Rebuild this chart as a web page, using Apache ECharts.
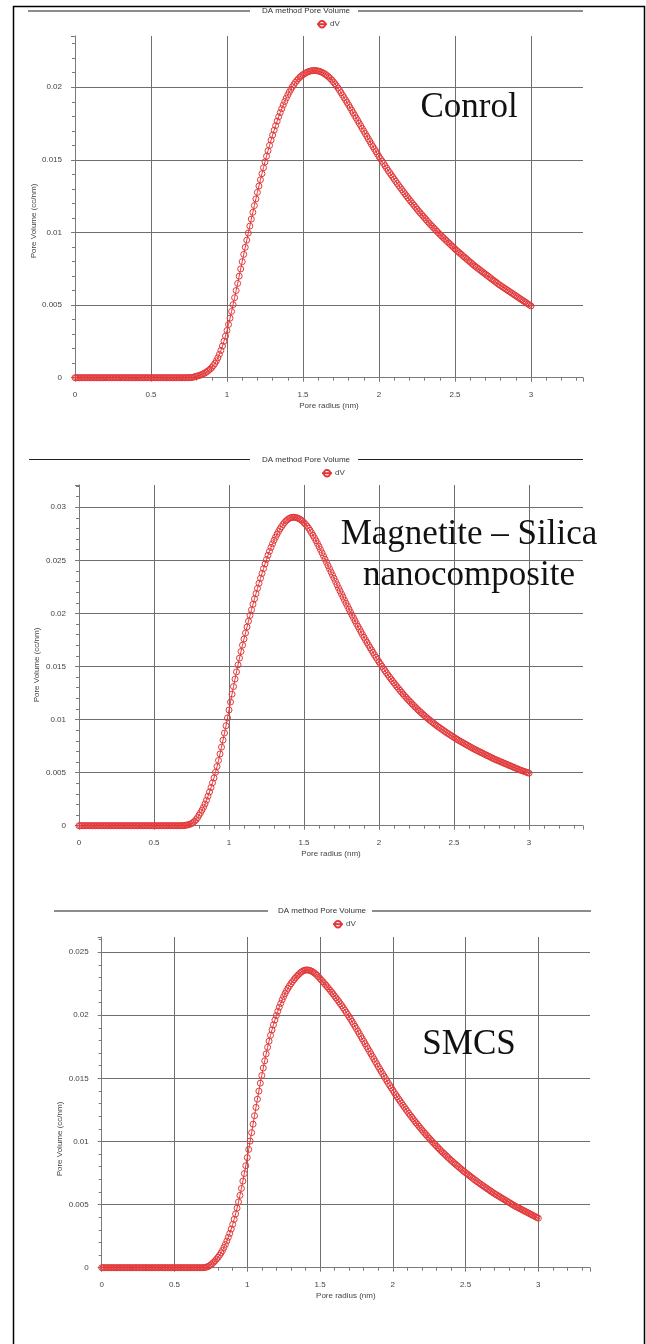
<!DOCTYPE html>
<html>
<head>
<meta charset="utf-8">
<title>DA method Pore Volume</title>
<script src="https://cdn.jsdelivr.net/npm/echarts@6/dist/echarts.min.js"></script>
<style>
  html, body { margin: 0; padding: 0; background: #fff; }
  #chart { width: 646px; height: 1344px; }
</style>
</head>
<body>
<div id="chart"></div>
<script>
// Pore radius grid of the DA analysis (nm), 0.00 to 3.00 in 0.01 nm steps
const RADIUS_STEP = 0.01;
const RADIUS_COUNT = 301;
const poreRadius = Array.from({ length: RADIUS_COUNT }, (_, i) => +(i * RADIUS_STEP).toFixed(2));

// dV (cc/nm) per sample, one row = 0.1 nm
const dvControl = [
  0,0,0,0,0,0,0,0,0,0,
  0,0,0,0,0,0,0,0,0,0,
  0,0,0,0,0,0,0,0,0,0,
  0,0,0,0,0,0,0,0,0,0,
  0,0,0,0,0,0,0,0,0,0,
  0,0,0,0,0,0,0,0,0,0,
  0,0,0,0,0,0,0,0,0,0,
  0,0,0,0,0,0,0.00001,0.00002,0.00004,0.00007,
  0.00010,0.00013,0.00016,0.00020,0.00025,0.00030,0.00036,0.00043,0.00051,0.00060,
  0.00070,0.00083,0.00098,0.00116,0.00137,0.00161,0.00188,0.00218,0.00251,0.00287,
  0.00325,0.00366,0.00410,0.00456,0.00503,0.00551,0.00600,0.00649,0.00699,0.00749,
  0.00799,0.00849,0.00898,0.00947,0.00996,0.01044,0.01092,0.01139,0.01185,0.01231,
  0.01276,0.01320,0.01363,0.01405,0.01446,0.01486,0.01525,0.01563,0.01600,0.01636,
  0.01671,0.01704,0.01736,0.01767,0.01797,0.01825,0.01852,0.01878,0.01902,0.01925,
  0.01947,0.01967,0.01986,0.02003,0.02019,0.02034,0.02047,0.02059,0.02070,0.02079,
  0.02087,0.02094,0.02100,0.02105,0.02109,0.02112,0.02114,0.02115,0.02115,0.02114,
  0.02112,0.02109,0.02105,0.02100,0.02094,0.02087,0.02079,0.02070,0.02060,0.02049,
  0.02037,0.02024,0.02010,0.01995,0.01979,0.01963,0.01946,0.01929,0.01912,0.01895,
  0.01878,0.01860,0.01842,0.01824,0.01806,0.01788,0.01770,0.01752,0.01734,0.01716,
  0.01698,0.01680,0.01662,0.01644,0.01626,0.01608,0.01591,0.01574,0.01557,0.01540,
  0.01523,0.01507,0.01491,0.01475,0.01459,0.01443,0.01427,0.01412,0.01397,0.01382,
  0.01367,0.01352,0.01337,0.01323,0.01309,0.01295,0.01281,0.01267,0.01253,0.01239,
  0.01226,0.01213,0.01200,0.01187,0.01174,0.01161,0.01148,0.01136,0.01124,0.01112,
  0.01100,0.01088,0.01076,0.01064,0.01053,0.01042,0.01031,0.01020,0.01009,0.00998,
  0.00987,0.00977,0.00967,0.00957,0.00947,0.00937,0.00927,0.00917,0.00907,0.00897,
  0.00887,0.00877,0.00868,0.00859,0.00850,0.00841,0.00832,0.00823,0.00814,0.00805,
  0.00796,0.00787,0.00778,0.00769,0.00761,0.00753,0.00745,0.00737,0.00729,0.00721,
  0.00713,0.00705,0.00697,0.00689,0.00681,0.00673,0.00665,0.00657,0.00649,0.00641,
  0.00634,0.00627,0.00620,0.00613,0.00606,0.00599,0.00592,0.00585,0.00578,0.00571,
  0.00564,0.00557,0.00550,0.00543,0.00536,0.00529,0.00522,0.00515,0.00508,0.00501,
  0.00494
];

const dvMagnetiteSilica = [
  0,0,0,0,0,0,0,0,0,0,
  0,0,0,0,0,0,0,0,0,0,
  0,0,0,0,0,0,0,0,0,0,
  0,0,0,0,0,0,0,0,0,0,
  0,0,0,0,0,0,0,0,0,0,
  0,0,0,0,0,0,0,0,0,0,
  0,0,0,0,0,0,0,0,0,0.00001,
  0.00002,0.00004,0.00006,0.00010,0.00014,0.00020,0.00030,0.00042,0.00056,0.00075,
  0.00100,0.00122,0.00147,0.00174,0.00205,0.00240,0.00278,0.00318,0.00360,0.00404,
  0.00450,0.00503,0.00558,0.00615,0.00676,0.00740,0.00806,0.00873,0.00942,0.01015,
  0.01090,0.01165,0.01239,0.01311,0.01381,0.01449,0.01515,0.01579,0.01641,0.01701,
  0.01759,0.01816,0.01872,0.01927,0.01981,0.02034,0.02086,0.02137,0.02187,0.02236,
  0.02284,0.02331,0.02377,0.02422,0.02466,0.02508,0.02548,0.02586,0.02622,0.02656,
  0.02688,0.02718,0.02746,0.02772,0.02796,0.02818,0.02838,0.02856,0.02871,0.02884,
  0.02894,0.02901,0.02905,0.02906,0.02905,0.02902,0.02897,0.02890,0.02881,0.02869,
  0.02855,0.02840,0.02823,0.02804,0.02783,0.02760,0.02736,0.02711,0.02685,0.02658,
  0.02630,0.02601,0.02571,0.02541,0.02511,0.02481,0.02451,0.02421,0.02391,0.02361,
  0.02331,0.02301,0.02271,0.02241,0.02212,0.02183,0.02154,0.02125,0.02096,0.02068,
  0.02040,0.02012,0.01984,0.01957,0.01930,0.01903,0.01877,0.01851,0.01825,0.01800,
  0.01775,0.01750,0.01726,0.01702,0.01678,0.01655,0.01632,0.01609,0.01587,0.01565,
  0.01543,0.01522,0.01501,0.01480,0.01460,0.01440,0.01420,0.01401,0.01382,0.01363,
  0.01345,0.01327,0.01309,0.01292,0.01275,0.01258,0.01241,0.01225,0.01209,0.01193,
  0.01178,0.01163,0.01148,0.01134,0.01120,0.01106,0.01092,0.01079,0.01066,0.01053,
  0.01040,0.01028,0.01016,0.01004,0.00992,0.00981,0.00970,0.00959,0.00948,0.00937,
  0.00927,0.00917,0.00907,0.00897,0.00887,0.00877,0.00868,0.00859,0.00850,0.00841,
  0.00832,0.00823,0.00814,0.00805,0.00797,0.00789,0.00781,0.00773,0.00765,0.00757,
  0.00749,0.00741,0.00733,0.00725,0.00718,0.00711,0.00704,0.00697,0.00690,0.00683,
  0.00676,0.00669,0.00662,0.00655,0.00648,0.00641,0.00634,0.00627,0.00621,0.00615,
  0.00609,0.00603,0.00597,0.00591,0.00585,0.00579,0.00573,0.00567,0.00561,0.00555,
  0.00549,0.00543,0.00537,0.00531,0.00525,0.00520,0.00515,0.00510,0.00505,0.00500,
  0.00495
];

const dvSMCS = [
  0,0,0,0,0,0,0,0,0,0,
  0,0,0,0,0,0,0,0,0,0,
  0,0,0,0,0,0,0,0,0,0,
  0,0,0,0,0,0,0,0,0,0,
  0,0,0,0,0,0,0,0,0,0,
  0,0,0,0,0,0,0,0,0,0,
  0,0,0,0,0,0,0,0,0,0,
  0.00001,0.00002,0.00005,0.00009,0.00015,0.00023,0.00033,0.00044,0.00056,0.00069,
  0.00083,0.00099,0.00117,0.00137,0.00160,0.00185,0.00212,0.00241,0.00272,0.00306,
  0.00343,0.00383,0.00426,0.00472,0.00521,0.00573,0.00628,0.00686,0.00746,0.00808,
  0.00872,0.00937,0.01003,0.01070,0.01137,0.01204,0.01270,0.01335,0.01399,0.01462,
  0.01523,0.01582,0.01639,0.01694,0.01746,0.01795,0.01841,0.01884,0.01924,0.01962,
  0.01998,0.02032,0.02064,0.02094,0.02122,0.02148,0.02172,0.02194,0.02214,0.02233,
  0.02250,0.02266,0.02281,0.02295,0.02308,0.02320,0.02331,0.02341,0.02349,0.02355,
  0.02358,0.02359,0.02358,0.02355,0.02350,0.02344,0.02336,0.02327,0.02316,0.02304,
  0.02291,0.02278,0.02265,0.02252,0.02239,0.02225,0.02211,0.02197,0.02183,0.02168,
  0.02153,0.02138,0.02123,0.02107,0.02091,0.02075,0.02058,0.02041,0.02024,0.02006,
  0.01988,0.01970,0.01951,0.01932,0.01913,0.01894,0.01874,0.01854,0.01834,0.01814,
  0.01794,0.01774,0.01754,0.01734,0.01714,0.01694,0.01674,0.01654,0.01634,0.01614,
  0.01594,0.01574,0.01555,0.01536,0.01517,0.01498,0.01479,0.01460,0.01442,0.01424,
  0.01406,0.01388,0.01371,0.01354,0.01337,0.01320,0.01303,0.01287,0.01271,0.01255,
  0.01239,0.01223,0.01208,0.01193,0.01178,0.01163,0.01148,0.01134,0.01120,0.01106,
  0.01092,0.01078,0.01065,0.01052,0.01039,0.01026,0.01013,0.01000,0.00988,0.00976,
  0.00964,0.00952,0.00940,0.00928,0.00917,0.00906,0.00895,0.00884,0.00873,0.00862,
  0.00851,0.00841,0.00831,0.00821,0.00811,0.00801,0.00791,0.00781,0.00771,0.00762,
  0.00753,0.00744,0.00735,0.00726,0.00717,0.00708,0.00699,0.00690,0.00681,0.00673,
  0.00665,0.00657,0.00649,0.00641,0.00633,0.00625,0.00617,0.00609,0.00601,0.00593,
  0.00586,0.00579,0.00572,0.00565,0.00558,0.00551,0.00544,0.00537,0.00530,0.00523,
  0.00516,0.00509,0.00502,0.00495,0.00488,0.00482,0.00476,0.00470,0.00464,0.00458,
  0.00452,0.00446,0.00440,0.00434,0.00428,0.00422,0.00416,0.00410,0.00404,0.00398,
  0.00392
];

// Text drawn on the page
const chartTitle = 'DA method Pore Volume';
const seriesName = 'dV';
const xAxisName = 'Pore radius (nm)';
const yAxisName = 'Pore Volume (cc/nm)';
const sampleLabels = [['Conrol'], ['Magnetite \u2013 Silica', 'nanocomposite'], ['SMCS']];
const yTickStep = [0.005, 0.005, 0.005];
const xTickStep = 0.5;

const RED = '#e3383a';
const GRID_COLOR = '#6e6e6e';
const AXIS_COLOR = '#7a7a7a';
const LABEL_COLOR = '#444';
const SANS = '"Liberation Sans", Arial, sans-serif';
const SERIF = '"Liberation Serif", "Times New Roman", serif';

// Layout of the three stacked panels
const panels = [
  { grid: { left: 75, top: 36, width: 508, height: 341.7 }, xMax: 3.342, yMax: 0.02353,
    titleX: 306, titleY: 11, rules: [[28, 250], [358, 583]], ruleColor: '#8c8c8c', ruleWidth: 2,
    legendLeft: 316, legendTop: 20, yNameX: 34, yNameY: 221,
    labelX: 469, labelY: [108] },
  { grid: { left: 79, top: 485, width: 504, height: 340.7 }, xMax: 3.36, yMax: 0.0321,
    titleX: 306, titleY: 459.5, rules: [[29, 250], [358, 583]], ruleColor: '#222', ruleWidth: 1,
    legendLeft: 321, legendTop: 469, yNameX: 37, yNameY: 665,
    labelX: 469, labelY: [535, 576] },
  { grid: { left: 101.7, top: 937, width: 488.3, height: 330.7 }, xMax: 3.355, yMax: 0.0262,
    titleX: 322, titleY: 911, rules: [[54, 268], [372, 591]], ruleColor: '#8c8c8c', ruleWidth: 2,
    legendLeft: 332, legendTop: 920, yNameX: 60, yNameY: 1139,
    labelX: 469, labelY: [1045] }
];
const dvSeries = [dvControl, dvMagnetiteSilica, dvSMCS];

const chart = echarts.init(document.getElementById('chart'), null, { renderer: 'canvas' });

const grids = [], xAxes = [], yAxes = [], series = [], legends = [], graphics = [];

// Outer frame
graphics.push({
  type: 'rect', silent: true,
  shape: { x: 13.5, y: 6.5, width: 631, height: 1400 },
  style: { fill: 'none', stroke: '#000', lineWidth: 1.5 }
});

panels.forEach((p, i) => {
  grids.push(Object.assign({ containLabel: false }, p.grid));

  xAxes.push({
    gridIndex: i, type: 'value', min: 0, max: p.xMax, interval: xTickStep, offset: 5,
    name: xAxisName, nameLocation: 'middle', nameGap: 19,
    nameTextStyle: { fontSize: 8, color: LABEL_COLOR, fontFamily: SANS },
    axisLine: { show: true, lineStyle: { color: AXIS_COLOR, width: 1 } },
    axisTick: { show: true, length: 4, lineStyle: { color: AXIS_COLOR } },
    minorTick: { show: true, splitNumber: 5, length: 3, lineStyle: { color: AXIS_COLOR } },
    axisLabel: { fontSize: 8, color: LABEL_COLOR, fontFamily: SANS, margin: 8, showMaxLabel: false },
    splitLine: { show: true, showMaxLine: false, lineStyle: { color: GRID_COLOR, width: 1 } }
  });

  yAxes.push({
    gridIndex: i, type: 'value', min: 0, max: p.yMax, interval: yTickStep[i], offset: 6,
    axisLine: { show: true, lineStyle: { color: AXIS_COLOR, width: 1 } },
    axisTick: { show: true, length: 4, lineStyle: { color: AXIS_COLOR } },
    minorTick: { show: true, splitNumber: 5, length: 3, lineStyle: { color: AXIS_COLOR } },
    axisLabel: { fontSize: 8, color: LABEL_COLOR, fontFamily: SANS, margin: 7, showMaxLabel: false },
    splitLine: { show: true, showMaxLine: false, lineStyle: { color: GRID_COLOR, width: 1 } }
  });

  series.push({
    type: 'line', name: seriesName, xAxisIndex: i, yAxisIndex: i,
    data: poreRadius.map((r, k) => [r, dvSeries[i][k]]),
    symbol: 'circle', symbolSize: 6, showSymbol: true,
    itemStyle: { color: 'rgba(255,255,255,0)', borderColor: RED, borderWidth: 1 },
    lineStyle: { color: RED, width: 1 },
    emphasis: { disabled: true }, silent: true, z: 5
  });

  legends.push({
    data: [seriesName], left: p.legendLeft, top: p.legendTop, padding: 0,
    itemWidth: 10, itemHeight: 8, itemGap: 2, selectedMode: false,
    textStyle: { fontSize: 8, color: LABEL_COLOR, fontFamily: SANS, padding: [0, 0, 0, -2] }
  });

  // Title with the rules on either side
  graphics.push({
    type: 'text', silent: true, x: p.titleX, y: p.titleY,
    style: { text: chartTitle, fontSize: 8, fontFamily: SANS, fill: '#333', align: 'center', verticalAlign: 'middle' }
  });
  p.rules.forEach(([x1, x2]) => graphics.push({
    type: 'line', silent: true,
    shape: { x1: x1, y1: p.titleY, x2: x2, y2: p.titleY },
    style: { stroke: p.ruleColor, lineWidth: p.ruleWidth }
  }));

  // Vertical axis name
  graphics.push({
    type: 'text', silent: true, x: p.yNameX, y: p.yNameY, rotation: Math.PI / 2,
    style: { text: yAxisName, fontSize: 8, fontFamily: SANS, fill: LABEL_COLOR, align: 'center', verticalAlign: 'middle' }
  });

  // Sample name inside the plot
  sampleLabels[i].forEach((line, j) => graphics.push({
    type: 'text', silent: true, x: p.labelX, y: p.labelY[j], z: 10,
    style: { text: line, fontSize: 35, fontFamily: SERIF, fill: '#111', align: 'center', verticalAlign: 'middle' }
  }));
});

chart.setOption({
  animation: false,
  backgroundColor: '#fff',
  grid: grids,
  xAxis: xAxes,
  yAxis: yAxes,
  legend: legends,
  series: series,
  graphic: graphics
});
</script>
</body>
</html>
